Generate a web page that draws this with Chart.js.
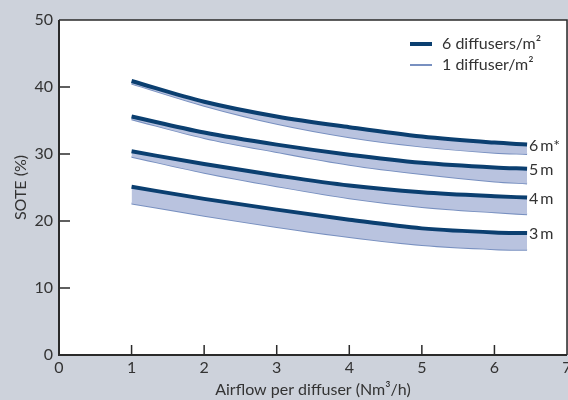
<!DOCTYPE html>
<html>
<head>
<meta charset="utf-8">
<script src="https://cdn.jsdelivr.net/npm/chart.js@4/dist/chart.umd.min.js"></script>
<style>
	html, body { margin: 0; padding: 0; background: #cdd2db; }
	#wrap { width: 568px; height: 400px; position: relative; }
</style>
</head>
<body>
<div id="wrap"><canvas id="chart"></canvas></div>
<script>
const airflow = [1, 2, 3, 4, 5, 6, 6.45];
const depths = ["6\u2009m*", "5\u2009m", "4\u2009m", "3\u2009m"];
// SOTE (%) for 6 diffusers/m² and 1 diffuser/m², per water depth
const sote6m_6 = [40.9, 37.8, 35.6, 34.0, 32.6, 31.7, 31.4];
const sote6m_1 = [40.5, 37.2, 34.5, 32.5, 31.1, 30.2, 30.0];
const sote5m_6 = [35.6, 33.2, 31.4, 29.9, 28.7, 28.0, 27.8];
const sote5m_1 = [35.2, 32.4, 30.3, 28.4, 27.0, 25.9, 25.6];
const sote4m_6 = [30.4, 28.5, 26.8, 25.3, 24.3, 23.7, 23.5];
const sote4m_1 = [29.6, 27.2, 25.2, 23.4, 22.1, 21.3, 21.0];
const sote3m_6 = [25.1, 23.3, 21.7, 20.2, 18.9, 18.3, 18.2];
const sote3m_1 = [22.6, 20.8, 19.1, 17.6, 16.4, 15.8, 15.7];
const xTicks = [0, 1, 2, 3, 4, 5, 6, 7];
const yTicks = [0, 10, 20, 30, 40, 50];
const legendLabels = ["6 diffusers/m\u00b2", "1 diffuser/m\u00b2"];

const dark = "#0b3f70";
const light = "#7890c0";
const band = "#b9c3df";
const textColor = "#333333";
const fontFamily = "Lato, 'Open Sans', sans-serif";

const pairs = [
	[sote6m_6, sote6m_1],
	[sote5m_6, sote5m_1],
	[sote4m_6, sote4m_1],
	[sote3m_6, sote3m_1],
];

const toPoints = (vals) => vals.map((v, i) => ({ x: airflow[i], y: v }));

const datasets = [];
pairs.forEach(([six, one], i) => {
	datasets.push({
		label: "six-" + i,
		data: toPoints(six),
		borderColor: dark,
		borderWidth: 4,
		backgroundColor: band,
		fill: "+1",
		order: 0,
	});
	datasets.push({
		label: "one-" + i,
		data: toPoints(one),
		borderColor: light,
		borderWidth: 2,
		fill: false,
		order: 1,
	});
});

const framePlugin = {
	id: "frame",
	beforeDraw(chart) {
		const { ctx, chartArea: a } = chart;
		ctx.save();
		ctx.fillStyle = "#ffffff";
		ctx.fillRect(a.left, a.top, a.right - a.left, a.bottom - a.top);
		ctx.restore();
	},
	afterDraw(chart) {
		const { ctx, chartArea: a, scales } = chart;
		ctx.save();
		ctx.strokeStyle = "#2a2a2a";
		ctx.lineWidth = 1.5;
		ctx.beginPath();
		ctx.moveTo(a.left, a.top);
		ctx.lineTo(a.right, a.top);
		ctx.lineTo(a.right, a.bottom);
		ctx.stroke();
		ctx.lineWidth = 2;
		ctx.beginPath();
		ctx.moveTo(a.left, a.top);
		ctx.lineTo(a.left, a.bottom);
		ctx.lineTo(a.right, a.bottom);
		ctx.stroke();
		// inward ticks
		ctx.lineWidth = 1.5;
		xTicks.slice(1, -1).forEach((t) => {
			const px = scales.x.getPixelForValue(t);
			ctx.beginPath();
			ctx.moveTo(px, a.bottom);
			ctx.lineTo(px, a.bottom - 10);
			ctx.stroke();
		});
		yTicks.slice(1, -1).forEach((t) => {
			const py = scales.y.getPixelForValue(t);
			ctx.beginPath();
			ctx.moveTo(a.left, py);
			ctx.lineTo(a.left + 11, py);
			ctx.stroke();
		});

		// depth labels at the end of each dark curve
		ctx.fillStyle = textColor;
		ctx.font = "16px " + fontFamily;
		ctx.textBaseline = "middle";
		ctx.textAlign = "left";
		pairs.forEach(([six], i) => {
			const last = six.length - 1;
			const px = scales.x.getPixelForValue(airflow[last]);
			const py = scales.y.getPixelForValue(six[last]);
			ctx.fillText(depths[i], px + 2, py + 1);
		});

		// legend
		const lx = 410, ly = 44;
		ctx.strokeStyle = dark;
		ctx.lineWidth = 4;
		ctx.beginPath();
		ctx.moveTo(lx, ly);
		ctx.lineTo(lx + 22, ly);
		ctx.stroke();
		ctx.strokeStyle = light;
		ctx.lineWidth = 2;
		ctx.beginPath();
		ctx.moveTo(lx, ly + 21);
		ctx.lineTo(lx + 22, ly + 21);
		ctx.stroke();
		ctx.fillText(legendLabels[0], lx + 32, ly);
		ctx.fillText(legendLabels[1], lx + 32, ly + 21);
		ctx.restore();
	},
};

new Chart(document.getElementById("chart"), {
	type: "line",
	data: { datasets },
	plugins: [framePlugin],
	options: {
		responsive: true,
		maintainAspectRatio: false,
		animation: false,
		devicePixelRatio: 1,
		layout: { padding: { top: 20, right: 1, left: 0, bottom: 0 } },
		elements: {
			point: { radius: 0 },
			line: { cubicInterpolationMode: "monotone", borderCapStyle: "butt" },
		},
		plugins: {
			legend: { display: false },
			tooltip: { enabled: false },
			filler: { propagate: false },
		},
		scales: {
			x: {
				type: "linear",
				min: 0,
				max: 7,
				afterFit: (s) => {
					s.height = 45;
					s.paddingLeft = 0;
					s.paddingRight = 0;
				},
				afterBuildTicks: (s) => { s.ticks = xTicks.map((v) => ({ value: v })); },
				grid: { display: false, drawTicks: false },
				border: { display: false },
				ticks: { color: textColor, padding: 3, font: { family: fontFamily, size: 16 }, maxRotation: 0 },
				title: {
					display: true,
					text: "Airflow per diffuser (Nm\u00b3/h)",
					color: textColor,
					font: { family: fontFamily, size: 16 },
					padding: { top: 0, bottom: 1 },
				},
			},
			y: {
				min: 0,
				max: 50,
				afterFit: (s) => {
					s.width = 59;
					s.paddingTop = 0;
					s.paddingBottom = 0;
				},
				afterBuildTicks: (s) => { s.ticks = yTicks.map((v) => ({ value: v })); },
				grid: { display: false, drawTicks: false },
				border: { display: false },
				ticks: { color: textColor, padding: 6, font: { family: fontFamily, size: 16 } },
				title: {
					display: true,
					text: "SOTE (%)",
					color: textColor,
					font: { family: fontFamily, size: 16 },
					padding: { top: 11, bottom: 0 },
				},
			},
		},
	},
});
</script>
</body>
</html>
